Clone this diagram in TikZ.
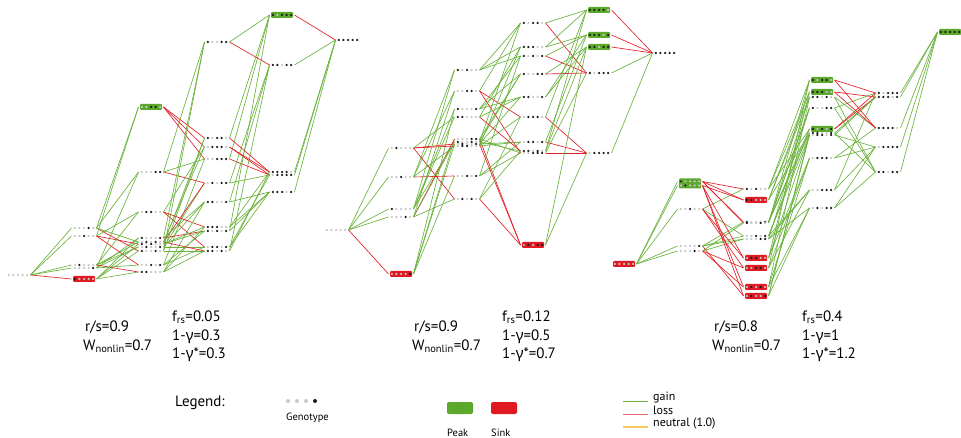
\documentclass[tikz,border=0pt]{standalone}
\usepackage{fontspec}
\setmainfont{PT Sans}
\newfontfamily\gfont{Noto Sans}
\usetikzlibrary{backgrounds}
\definecolor{gainc}{RGB}{106,178,60}
\definecolor{lossc}{RGB}{227,30,36}
\definecolor{peakc}{RGB}{92,168,42}
\definecolor{sinkc}{RGB}{224,26,34}
\definecolor{neutc}{RGB}{250,200,100}
\definecolor{lossl}{RGB}{236,100,110}
\colorlet{b0}{black!22}
\colorlet{b1}{black!90}
\tikzset{
 gnode/.style={rectangle, minimum width=22pt, minimum height=6pt, inner sep=0pt, outer sep=1.5pt},
 gplain/.style={},
 gpeak/.style={fill=peakc, rounded corners=1pt},
 gsink/.style={fill=sinkc, rounded corners=1pt},
 gainline/.style={draw=gainc, line width=0.65pt},
 lossline/.style={draw=lossc, line width=0.65pt},
 lbl/.style={anchor=west, inner sep=0pt, font=\fontsize{15}{17}\selectfont},
 small/.style={anchor=west, inner sep=0pt, font=\fontsize{10.5}{12}\selectfont},
 legl/.style={anchor=west, inner sep=0pt, font=\fontsize{12}{13}\selectfont},
}
\newcommand\geno[6]{%
  \expandafter\gdef\csname fit-#2-#3\endcsname{#6}%
  \node[gnode,#1] (#2-#3) at (#4,#5) {};
  \genodots{#4}{#5}#3\relax
}
\def\genodots#1#2#3#4#5#6#7#8\relax{%
  \fill[b#3] (#1-9.2,#2) circle (1.25pt);
  \fill[b#4] (#1-4.6,#2) circle (1.25pt);
  \fill[b#5] (#1,#2) circle (1.25pt);
  \fill[b#6] (#1+4.6,#2) circle (1.25pt);
  \fill[b#7] (#1+9.2,#2) circle (1.25pt);
}
\newcommand\gedge[3]{%
  \ifdim\csname fit-#1-#3\endcsname pt>\csname fit-#1-#2\endcsname pt\relax
    \draw[gainline] (#1-#2.east) -- (#1-#3.west);
  \else
    \draw[lossline] (#1-#2.east) -- (#1-#3.west);
  \fi}
\begin{document}
\begin{tikzpicture}[x=1pt,y=-1pt]
\useasboundingbox (0,0) rectangle (961,438);
% ---------- panel A
\geno{gplain}{A}{00000}{18}{275}{1.0}
\geno{gplain}{A}{00010}{84}{228}{1.2}
\geno{gplain}{A}{00100}{84}{236}{1.15}
\geno{gplain}{A}{01000}{84}{265}{1.1}
\geno{gplain}{A}{00001}{84}{268}{1.05}
\geno{gsink}{A}{10000}{84}{279}{0.8}
\geno{gpeak}{A}{00110}{151}{107}{1.6}
\geno{gplain}{A}{00011}{151}{172}{1.3}
\geno{gplain}{A}{01100}{151}{212}{1.35}
\geno{gplain}{A}{10001}{151}{238}{1.2}
\geno{gplain}{A}{01010}{151}{242}{1.25}
\geno{gplain}{A}{10100}{151}{244}{1.1}
\geno{gplain}{A}{01001}{151}{247}{1.15}
\geno{gplain}{A}{10010}{151}{251}{1.0}
\geno{gplain}{A}{00101}{151}{265}{1.1}
\geno{gplain}{A}{11000}{151}{272}{1.05}
\geno{gplain}{A}{10011}{217}{42}{1.5}
\geno{gplain}{A}{10110}{217}{138}{1.3}
\geno{gplain}{A}{01110}{217}{147}{1.4}
\geno{gplain}{A}{00111}{217}{159}{1.35}
\geno{gplain}{A}{01011}{217}{183}{1.25}
\geno{gplain}{A}{11001}{217}{202}{1.3}
\geno{gplain}{A}{11100}{217}{227}{1.2}
\geno{gplain}{A}{10101}{217}{231}{1.15}
\geno{gplain}{A}{01101}{217}{247}{1.25}
\geno{gplain}{A}{11010}{217}{251}{1.1}
\geno{gpeak}{A}{10111}{282}{15}{2.0}
\geno{gplain}{A}{11011}{282}{65}{1.4}
\geno{gplain}{A}{11110}{282}{172}{1.22}
\geno{gplain}{A}{01111}{282}{175}{1.3}
\geno{gplain}{A}{11101}{282}{192}{1.35}
\geno{gplain}{A}{11111}{348}{40}{1.45}
% ---------- panel B
\geno{gplain}{B}{00000}{336}{230}{1.0}
\geno{gplain}{B}{01000}{401}{148}{1.2}
\geno{gplain}{B}{00100}{401}{177}{1.15}
\geno{gplain}{B}{10000}{401}{209}{1.1}
\geno{gplain}{B}{00010}{401}{217}{1.05}
\geno{gsink}{B}{00001}{401}{274}{0.7}
\geno{gplain}{B}{10100}{467}{70}{1.4}
\geno{gplain}{B}{00110}{467}{91}{1.3}
\geno{gplain}{B}{10001}{467}{109}{1.25}
\geno{gplain}{B}{11000}{467}{117}{1.35}
\geno{gplain}{B}{00011}{467}{139}{1.0}
\geno{gplain}{B}{10010}{467}{142}{1.15}
\geno{gplain}{B}{01001}{467}{144}{1.1}
\geno{gplain}{B}{01100}{467}{146}{1.2}
\geno{gplain}{B}{00101}{467}{176}{1.1}
\geno{gplain}{B}{01010}{467}{199}{1.15}
\geno{gplain}{B}{10110}{533}{23}{1.6}
\geno{gplain}{B}{11100}{533}{47}{1.55}
\geno{gplain}{B}{10101}{533}{56}{1.45}
\geno{gplain}{B}{10011}{533}{74}{1.5}
\geno{gplain}{B}{11001}{533}{97}{1.4}
\geno{gplain}{B}{01110}{533}{117}{1.25}
\geno{gplain}{B}{01101}{533}{142}{1.35}
\geno{gplain}{B}{11010}{533}{151}{1.2}
\geno{gplain}{B}{00111}{533}{153}{1.25}
\geno{gsink}{B}{01011}{533}{245}{0.9}
\geno{gpeak}{B}{11110}{599}{10}{2.0}
\geno{gpeak}{B}{11101}{599}{35}{1.9}
\geno{gpeak}{B}{11011}{599}{47}{1.8}
\geno{gplain}{B}{10111}{599}{73}{1.35}
\geno{gplain}{B}{01111}{599}{153}{1.2}
\geno{gplain}{B}{11111}{665}{53}{1.5}
% ---------- panel C
\geno{gsink}{C}{00000}{624}{264}{0.5}
\geno{gpeak}{C}{10000}{690}{181.5}{1.5}
\geno{gpeak}{C}{01000}{690}{185.5}{1.5}
\geno{gplain}{C}{00100}{690}{209}{1.2}
\geno{gplain}{C}{00001}{690}{246}{1.1}
\geno{gplain}{C}{00010}{690}{251}{1.1}
\geno{gplain}{C}{10100}{756}{189}{1.3}
\geno{gsink}{C}{11000}{756}{200}{0.6}
\geno{gplain}{C}{10001}{756}{222}{1.2}
\geno{gplain}{C}{10010}{756}{223}{1.2}
\geno{gplain}{C}{00101}{756}{236}{1.25}
\geno{gplain}{C}{00011}{756}{239}{1.2}
\geno{gsink}{C}{01100}{756}{258}{0.7}
\geno{gsink}{C}{00110}{756}{268}{0.7}
\geno{gsink}{C}{01010}{756}{287}{0.6}
\geno{gsink}{C}{01001}{756}{296}{0.65}
\geno{gpeak}{C}{10110}{822}{80}{2.0}
\geno{gpeak}{C}{11100}{822}{92}{2.0}
\geno{gplain}{C}{11010}{822}{97}{1.4}
\geno{gplain}{C}{10011}{822}{108}{1.45}
\geno{gpeak}{C}{10101}{822}{129}{1.9}
\geno{gplain}{C}{11001}{822}{133}{1.35}
\geno{gplain}{C}{01101}{822}{135}{1.35}
\geno{gplain}{C}{01110}{822}{158}{1.3}
\geno{gplain}{C}{00111}{822}{190}{1.4}
\geno{gplain}{C}{01011}{822}{208}{1.3}
\geno{gplain}{C}{10111}{888}{93}{1.6}
\geno{gplain}{C}{11101}{888}{97}{1.55}
\geno{gplain}{C}{11110}{888}{128}{1.5}
\geno{gplain}{C}{01111}{888}{147}{1.45}
\geno{gplain}{C}{11011}{888}{172}{1.5}
\geno{gpeak}{C}{11111}{950}{32}{2.2}
% ---------- edges
\begin{pgfonlayer}{background}
\foreach \p in {A,B,C}{
 \foreach \b in {0,1}{\foreach \c in {0,1}{\foreach \d in {0,1}{\foreach \e in {0,1}{
   \gedge{\p}{0\b\c\d\e}{1\b\c\d\e}
   \gedge{\p}{\b0\c\d\e}{\b1\c\d\e}
   \gedge{\p}{\b\c0\d\e}{\b\c1\d\e}
   \gedge{\p}{\b\c\d0\e}{\b\c\d1\e}
   \gedge{\p}{\b\c\d\e0}{\b\c\d\e1}
 }}}}}
\end{pgfonlayer}
% ---------- parameter labels
\node[lbl] (a1) at (85,327) {r/s=0.9};
\node[lbl] (a2) at (83,346) {W\textsubscript{nonlin}=0.7};
\node[lbl] (a3) at (172,317) {f\textsubscript{rs}=0.05};
\node[lbl] (a4) at (172,337) {1-{\gfont γ}=0.3};
\node[lbl] (a5) at (172,355) {1-{\gfont γ}*=0.3};
\node[lbl] (b1) at (414,327) {r/s=0.9};
\node[lbl] (b2) at (412,346) {W\textsubscript{nonlin}=0.7};
\node[lbl] (b3) at (502,317) {f\textsubscript{rs}=0.12};
\node[lbl] (b4) at (502,337) {1-{\gfont γ}=0.5};
\node[lbl] (b5) at (502,355) {1-{\gfont γ}*=0.7};
\node[lbl] (c1) at (714,327) {r/s=0.8};
\node[lbl] (c2) at (712,346) {W\textsubscript{nonlin}=0.7};
\node[lbl] (c3) at (802,317) {f\textsubscript{rs}=0.4};
\node[lbl] (c4) at (802,337) {1-{\gfont γ}=1};
\node[lbl] (c5) at (802,355) {1-{\gfont γ}*=1.2};
% ---------- legend
\node[lbl] (leg) at (175,403) {Legend:};
\fill[b0] (288,401) circle (2pt);
\fill[b0] (297,401) circle (2pt);
\fill[b0] (306,401) circle (2pt);
\fill[b1] (315,401) circle (2pt);
\node[small] (gt) at (286,418) {Genotype};
\node[fill=peakc, rounded corners=2pt, minimum width=26pt, minimum height=12pt, inner sep=0pt] (pk) at (460,408) {};
\node[fill=sinkc, rounded corners=2pt, minimum width=26pt, minimum height=12pt, inner sep=0pt] (sk) at (504,408) {};
\node[small] (pkl) at (447,433) {Peak};
\node[small] (skl) at (491,433) {Sink};
\coordinate (g1) at (623,401); \coordinate (g2) at (648,401);
\coordinate (l1) at (623,414); \coordinate (l2) at (648,414);
\coordinate (n1) at (623,427); \coordinate (n2) at (648,427);
\draw[gainc, line width=1pt] (g1) -- (g2);
\draw[lossl, line width=1pt] (l1) -- (l2);
\draw[neutc, line width=1.3pt] (n1) -- (n2);
\node[legl] (gl) at (653,398) {gain};
\node[legl] (ll) at (653,410) {loss};
\node[legl] (nl) at (653,424) {neutral (1.0)};
\end{tikzpicture}
\end{document}
